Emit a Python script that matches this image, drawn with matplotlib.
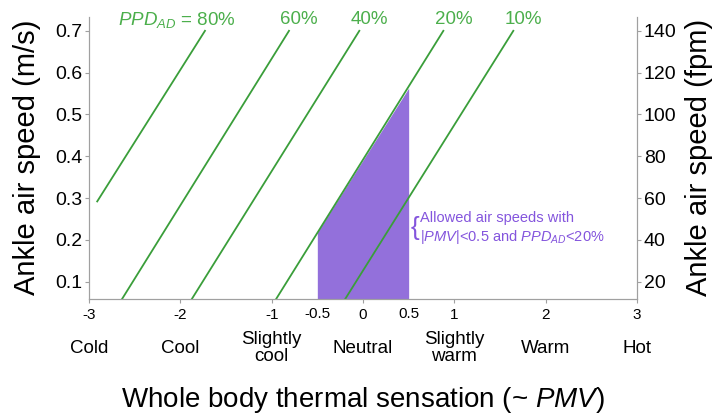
import matplotlib
matplotlib.use('Agg')
import matplotlib.pyplot as plt
import matplotlib.transforms as transforms

plt.rcParams['font.family'] = ['Liberation Sans', 'DejaVu Sans']
plt.rcParams['mathtext.fontset'] = 'custom'
plt.rcParams['mathtext.rm'] = 'Liberation Sans'
plt.rcParams['mathtext.it'] = 'Liberation Sans:italic'

# PPD_AD iso-lines: (pmv start, pmv end), (speed start, speed end)
ppd_labels = ['80%', '60%', '40%', '20%', '10%']
ppd_x = [[-2.91, -1.73], [-2.64, -0.81], [-1.876, -0.04], [-0.953, 0.88], [-0.197, 1.646]]
ppd_y = [[0.292, 0.70], [0.058, 0.70], [0.058, 0.70], [0.058, 0.70], [0.058, 0.70]]

# allowed region: |PMV| < 0.5 below the 20% line
fill_x = [-0.5, 0.5]
fill_top = [0.218, 0.563]
fill_bottom = 0.058

xticks = [-3, -2, -1, 0, 1, 2, 3]
xminor = [-0.5, 0.5]
yticks = [0.1, 0.2, 0.3, 0.4, 0.5, 0.6, 0.7]
fpm_ticks = [20, 40, 60, 80, 100, 120, 140]
sensations = ['Cold', 'Cool', 'Slightly\ncool', 'Neutral', 'Slightly\nwarm', 'Warm', 'Hot']

green = '#3a9e3a'
green_txt = '#4caf4c'
purple = '#9370DB'
purple_txt = '#8455dd'
grey = '#a0a0a0'

fig = plt.figure(figsize=(7.13, 4.19), dpi=100)
ax = fig.add_axes([0.1248, 0.2857, 0.7686, 0.6737])

ax.fill_between(fill_x, [fill_bottom, fill_bottom], fill_top, color=purple, lw=0)
for xs, ys in zip(ppd_x, ppd_y):
    ax.plot(xs, ys, color=green, lw=1.3)

ylo, yhi = 0.058, 0.733
ax.set_xlim(-3, 3)
ax.set_ylim(ylo, yhi)

for i, (xs, lab) in enumerate(zip(ppd_x, ppd_labels)):
    if i == 0:
        ax.text(xs[1] + 0.33, 0.727, r'$PPD_{AD}$ = ' + lab, color=green_txt, fontsize=13.5,
                ha='right', va='center')
    else:
        ax.text(xs[1] + 0.11, 0.727, lab, color=green_txt, fontsize=13.5, ha='center', va='center')

ax.text(0.615, 0.229, '{', color=purple_txt, fontsize=19, ha='right', va='center')
ax.text(0.62, 0.228, 'Allowed air speeds with\n|$PMV$|<0.5 and $PPD_{AD}$<20%',
        color=purple_txt, fontsize=10.5, ha='left', va='center', linespacing=1.25)

for s in ['top']:
    ax.spines[s].set_visible(False)
for s in ['left', 'right', 'bottom']:
    ax.spines[s].set_color(grey)
ax.set_xticks(xticks)
ax.set_xticklabels([str(t) for t in xticks], fontsize=11)
ax.set_xticks(xminor, minor=True)
ax.set_xticklabels([str(t) for t in xminor], minor=True, fontsize=11)
ax.tick_params(axis='x', which='minor', length=0, pad=5.5)
ax.tick_params(axis='x', which='major', length=3, color=grey, pad=3)
ax.set_yticks(yticks)
ax.set_yticklabels([f'{t:.1f}' for t in yticks], fontsize=14)
ax.tick_params(axis='y', length=3, color=grey, pad=2)

ax2 = ax.twinx()
ax2.set_ylim(ylo * 200, yhi * 200)
ax2.set_yticks(fpm_ticks)
ax2.set_yticklabels([str(t) for t in fpm_ticks], fontsize=14)
ax2.tick_params(axis='y', length=3, color=grey, pad=2)
for s in ['top']:
    ax2.spines[s].set_visible(False)
for s in ['left', 'right', 'bottom']:
    ax2.spines[s].set_color(grey)

trans = transforms.blended_transform_factory(ax.transData, ax.transAxes)
for x, lab in zip(xticks, sensations):
    ax.text(x, -0.173, lab, transform=trans, fontsize=13.5, ha='center', va='center', linespacing=1.05)

fig.text(0.5 * (0.1248 + 0.8934), 1 - 400 / 419, 'Whole body thermal sensation (~ $PMV$)',
         fontsize=20, ha='center', va='center')
fig.text(27 / 713, 1 - 157 / 419, 'Ankle air speed (m/s)', fontsize=21, rotation=90,
         ha='center', va='center')
fig.text(699 / 713, 1 - 157 / 419, 'Ankle air speed (fpm)', fontsize=21, rotation=90,
         ha='center', va='center')

fig.savefig('out.png', dpi=100)
